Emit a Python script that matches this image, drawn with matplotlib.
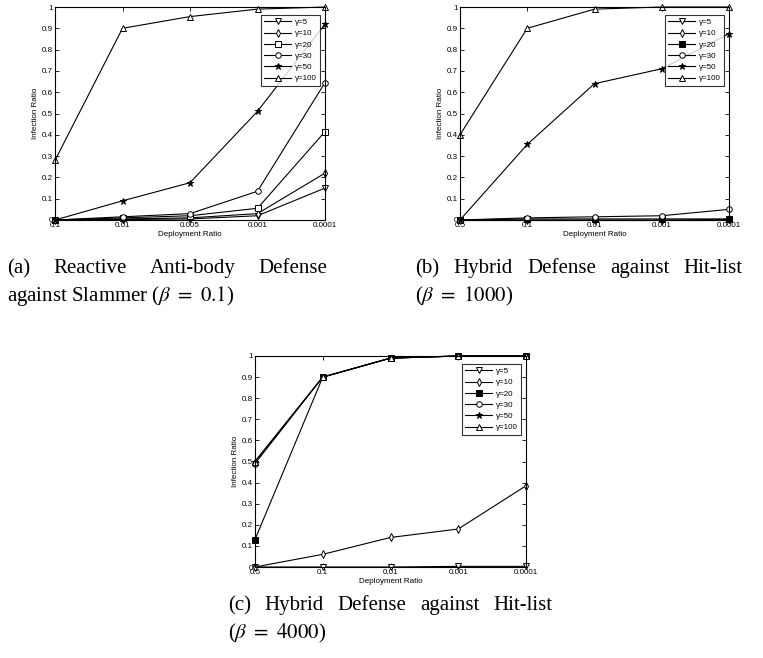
"""Infection ratio vs deployment ratio for three defense setups."""

import matplotlib
matplotlib.use("Agg")
import matplotlib.pyplot as plt

W, H = 763, 658

gammas = ["γ=5", "γ=10", "γ=20", "γ=30", "γ=50", "γ=100"]
markers = ["v", "d", "s", "o", "*", "^"]

# (a) reactive anti-body defense against Slammer
xa_labels = ["0.1", "0.01", "0.005", "0.001", "0.0001"]
a_g5 = [0.0, 0.002, 0.005, 0.02, 0.15]
a_g10 = [0.0, 0.005, 0.01, 0.03, 0.22]
a_g20 = [0.0, 0.01, 0.02, 0.055, 0.415]
a_g30 = [0.0, 0.015, 0.03, 0.135, 0.645]
a_g50 = [0.0, 0.09, 0.175, 0.51, 0.92]
a_g100 = [0.28, 0.90, 0.955, 0.99, 1.0]

# (b) hybrid defense against hit-list, beta=1000
xb_labels = ["0.5", "0.1", "0.01", "0.001", "0.0001"]
b_g5 = [0.0, 0.0, 0.0, 0.0, 0.0]
b_g10 = [0.0, 0.0, 0.0, 0.0, 0.003]
b_g20 = [0.0, 0.005, 0.005, 0.005, 0.005]
b_g30 = [0.0, 0.01, 0.015, 0.02, 0.05]
b_g50 = [0.0, 0.355, 0.64, 0.71, 0.875]
b_g100 = [0.40, 0.90, 0.99, 1.0, 1.0]

# (c) hybrid defense against hit-list, beta=4000
xc_labels = ["0.5", "0.1", "0.01", "0.001", "0.0001"]
c_g5 = [0.0, 0.0, 0.0, 0.003, 0.003]
c_g10 = [0.0, 0.06, 0.14, 0.18, 0.385]
c_g20 = [0.13, 0.90, 0.99, 1.0, 1.0]
c_g30 = [0.49, 0.90, 0.99, 1.0, 1.0]
c_g50 = [0.50, 0.90, 0.99, 1.0, 1.0]
c_g100 = [0.50, 0.90, 0.99, 1.0, 1.0]

plt.rcParams["font.family"] = ["Liberation Sans", "DejaVu Sans"]
plt.rcParams["mathtext.fontset"] = "stix"

fig = plt.figure(figsize=(W / 100, H / 100), dpi=100)


def panel(px_left, px_right, px_top, px_bottom, labels, series, filled_sq=False):
    ax = fig.add_axes([px_left / W, 1 - px_bottom / H,
                       (px_right - px_left) / W, (px_bottom - px_top) / H])
    xs = list(range(len(labels)))
    for name, m, ys in zip(gammas, markers, series):
        face = "black" if m == "*" or (m == "s" and filled_sq) else "white"
        ax.plot(xs, ys, color="black", lw=0.8, marker=m, ms=4 if m != "*" else 5,
                mfc=face, mec="black", mew=0.7, label=name, clip_on=False)
    ax.set_xlim(0, len(labels) - 1)
    ax.set_ylim(0, 1)
    ax.set_xticks(xs)
    ax.set_xticklabels(labels)
    ax.set_yticks([i / 10 for i in range(11)])
    ax.set_yticklabels(["0"] + [f"0.{i}" for i in range(1, 10)] + ["1"])
    ax.tick_params(direction="in", top=True, right=True, labelsize=5.8,
                   length=3, width=0.6, pad=1.5)
    for s in ax.spines.values():
        s.set_linewidth(0.8)
    ax.set_xlabel("Deployment Ratio", fontsize=5.8, labelpad=1.5)
    ax.set_ylabel("Infection Ratio", fontsize=5.8, labelpad=2)
    leg = ax.legend(loc="upper right", fontsize=5.8, frameon=True, fancybox=False,
                    edgecolor="black", handlelength=3.4, borderpad=0.4,
                    labelspacing=0.45, handletextpad=0.4,
                    bbox_to_anchor=(0.995, 0.98))
    leg.get_frame().set_linewidth(0.8)
    return ax


panel(55, 325, 7, 220, xa_labels, [a_g5, a_g10, a_g20, a_g30, a_g50, a_g100])
panel(460, 729, 7, 220, xb_labels, [b_g5, b_g10, b_g20, b_g30, b_g50, b_g100],
      filled_sq=True)
panel(255, 526, 356, 567, xc_labels, [c_g5, c_g10, c_g20, c_g30, c_g50, c_g100],
      filled_sq=True)

CAP = dict(fontsize=15, va="baseline", ha="left", family="Liberation Serif")
renderer = fig.canvas.get_renderer()


def justified(words, x0, x1, y):
    # first line of a caption, spread over the column width like LaTeX does
    texts = [fig.text(x0 / W, 1 - y / H, w, **CAP) for w in words]
    widths = [t.get_window_extent(renderer).width for t in texts]
    gap = (x1 - x0 - sum(widths)) / (len(words) - 1)
    x = x0
    for t, w in zip(texts, widths):
        t.set_x(x / W)
        x += w + gap


def plain(txt, x0, y):
    fig.text(x0 / W, 1 - y / H, txt, **CAP)


justified(["(a)", "Reactive", "Anti-body", "Defense"], 7, 327, 273)
plain(r"against Slammer ($\beta$ $=$ $0.1$)", 7, 301)
justified(["(b)", "Hybrid", "Defense", "against", "Hit-list"], 415, 743, 273)
plain(r"($\beta$ $=$ $1000$)", 415, 301)
justified(["(c)", "Hybrid", "Defense", "against", "Hit-list"], 228, 552, 610)
plain(r"($\beta$ $=$ $4000$)", 228, 638)

fig.savefig("out.png", dpi=100)
